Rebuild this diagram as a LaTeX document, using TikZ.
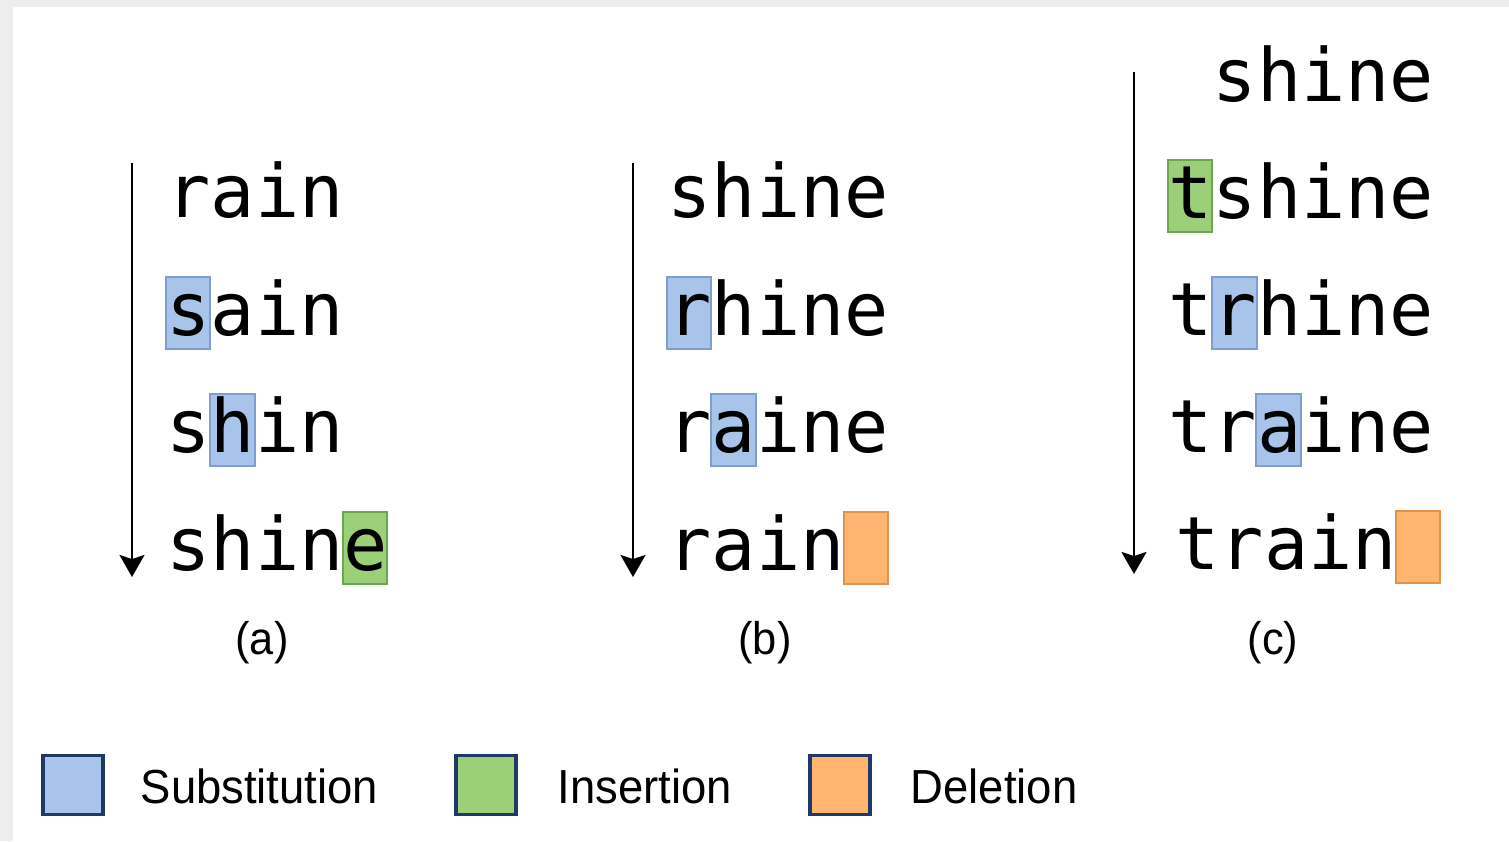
\documentclass[tikz,border=0pt]{standalone}
\usepackage{fontspec}
\setmainfont{Liberation Sans}
\newfontfamily\wordfont{DejaVu Sans Mono}
\newfontfamily\keyfont[FakeStretch=0.95]{Liberation Sans}
\usepackage{xcolor}
\usepackage{tikz}
\usetikzlibrary{positioning,arrows.meta}
\definecolor{subfill}{RGB}{169,196,235}
\definecolor{subline}{RGB}{127,158,205}
\definecolor{insfill}{RGB}{155,207,120}
\definecolor{insline}{RGB}{108,166,78}
\definecolor{delfill}{RGB}{255,181,112}
\definecolor{delline}{RGB}{226,146,76}
\definecolor{keyline}{RGB}{31,56,100}

\tikzset{
  word/.style={font=\fontsize{20.9}{25}\wordfont, anchor=base west, inner sep=0pt},
  editbox/.style={minimum width=0.445cm, minimum height=0.72cm, inner sep=0pt, line width=0.6pt},
  subbox/.style={editbox, fill=subfill, draw=subline},
  insbox/.style={editbox, fill=insfill, draw=insline},
  delbox/.style={editbox, fill=delfill, draw=delline},
  keybox/.style={minimum width=0.6cm, minimum height=0.59cm, inner sep=0pt, line width=0.9pt, draw=keyline},
  keytext/.style={font=\fontsize{13.6}{16}\keyfont, anchor=base west, inner sep=0pt},
  caption/.style={font=\fontsize{13}{15}\keyfont, inner sep=0pt},
  flow/.style={line width=0.6pt, -{Stealth[length=0.22cm, width=0.25cm, inset=0.04cm]}}
}

\begin{document}
\begin{tikzpicture}[x=0.01cm, y=-0.01cm]
  \useasboundingbox (0,0) rectangle (1509,841);
  \fill[gray!14] (0,0) rectangle (1509,841);
  \fill[white] (13,7) rectangle (1509,841);

  % (a)
  \node[subbox] (sa-s) at (188,313) {};
  \node[subbox] (sa-h) at (232.3,430) {};
  \node[insbox] (sa-e) at (365,548) {};
  \node[word] (wa1) at (166,217) {rain};
  \node[word] (wa2) at (166,335) {sain};
  \node[word] (wa3) at (166,452) {shin};
  \node[word] (wa4) at (166,570) {shine};
  \coordinate (atop) at (132,163);
  \coordinate (aend) at (132,577);
  \draw[flow] (atop) -- (aend);
  \node[caption] (capa) at (262,643) {(a)};

  % (b)
  \node[subbox] (sb-r) at (689,313) {};
  \node[subbox] (sb-a) at (733.3,430) {};
  \node[delbox] (sb-d) at (866,548) {};
  \node[word] (wb1) at (667,217) {shine};
  \node[word] (wb2) at (667,335) {rhine};
  \node[word] (wb3) at (667,452) {raine};
  \node[word] (wb4) at (667,570) {rain};
  \coordinate (btop) at (633,163);
  \coordinate (bend) at (633,577);
  \draw[flow] (btop) -- (bend);
  \node[caption] (capb) at (765,643) {(b)};

  % (c)
  \node[insbox] (sc-t) at (1190,196) {};
  \node[subbox] (sc-r) at (1234.3,313) {};
  \node[subbox] (sc-a) at (1278.5,430) {};
  \node[delbox] (sc-d) at (1418,547) {};
  \node[word] (wc1) at (1212.25,101) {shine};
  \node[word] (wc2) at (1168,218) {tshine};
  \node[word] (wc3) at (1168,335) {trhine};
  \node[word] (wc4) at (1168,452) {traine};
  \node[word] (wc5) at (1175,569) {train};
  \coordinate (ctop) at (1134,72);
  \coordinate (cend) at (1134,574);
  \draw[flow] (ctop) -- (cend);
  \node[caption] (capc) at (1273,643) {(c)};

  % legend
  \node[keybox, fill=subfill] (ksub) at (73,785) {};
  \node[keybox, fill=insfill] (kins) at (486,785) {};
  \node[keybox, fill=delfill] (kdel) at (840,785) {};
  \node[keytext] (tsub) at (140,803) {Substitution};
  \node[keytext] (tins) at (557,803) {Insertion};
  \node[keytext] (tdel) at (910,803) {Deletion};
\end{tikzpicture}
\end{document}
